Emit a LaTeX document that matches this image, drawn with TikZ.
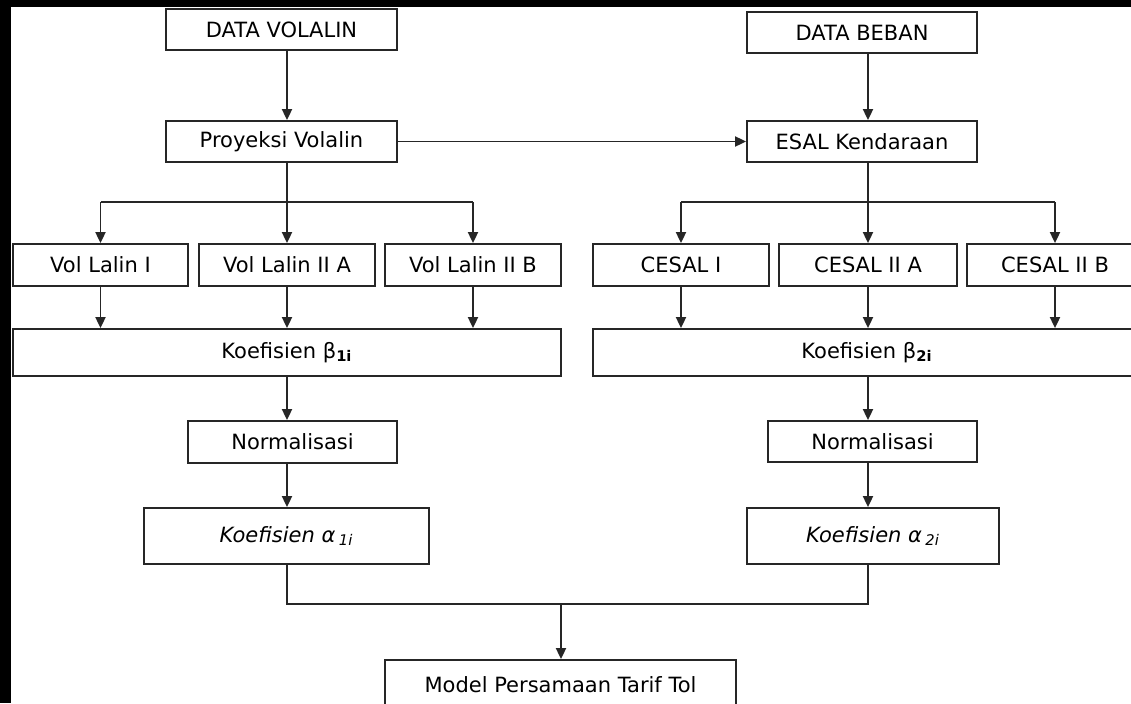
\documentclass[tikz,border=0pt]{standalone}
\usepackage{fontspec}
\setmainfont{DejaVu Sans}
\usetikzlibrary{arrows.meta}
\begin{document}
\begin{tikzpicture}[x=0.5pt,y=-0.5pt,
  box/.style={draw=black!85,line width=0.9pt,inner sep=0pt,fill=white,
    font=\fontsize{10.5}{12}\selectfont,text=black},
  conn/.style={draw=black!85,line width=0.9pt},
  arr/.style={conn,-{Triangle[length=5.5pt,width=5pt]}}]
\useasboundingbox (0,0) rectangle (1131,703);
\clip (0,0) rectangle (1131,703);
\fill[black] (0,0) rectangle (1131,703);
\fill[white] (11,7) rectangle (1131,703);
% column coordinates
\coordinate (xL) at (287,0);
\coordinate (xR) at (868,0);
\coordinate (xM) at (561,0);
\coordinate (yb) at (0,202);
\coordinate (ym) at (0,604);
% nodes
\node[box,minimum width=115.5pt,minimum height=20.5pt] (dv) at (281.5,29.5) {DATA VOLALIN};
\node[box,minimum width=115pt,minimum height=20.5pt] (db) at (862,32.5) {DATA BEBAN};
\node[box,minimum width=115.5pt,minimum height=20.5pt] (pv) at (281.5,141.5) {Proyeksi Volalin};
\node[box,minimum width=115pt,minimum height=20.5pt] (ek) at (862,141.5) {ESAL Kendaraan};
\node[box,minimum width=87.5pt,minimum height=21pt] (vl1) at (100.5,265) {Vol Lalin I};
\node[box,minimum width=88pt,minimum height=21pt] (vl2a) at (287,265) {Vol Lalin II A};
\node[box,minimum width=88pt,minimum height=21pt] (vl2b) at (473,265) {Vol Lalin II B};
\node[box,minimum width=88pt,minimum height=21pt] (ce1) at (681,265) {CESAL I};
\node[box,minimum width=89pt,minimum height=21pt] (ce2a) at (868,265) {CESAL II A};
\node[box,minimum width=88pt,minimum height=21pt] (ce2b) at (1055,265) {CESAL II B};
\node[box,minimum width=274pt,minimum height=23.5pt] (k1) at (287,352.5) {Koefisien β\textsubscript{\textbf{1i}}};
\node[box,minimum width=274pt,minimum height=23.5pt] (k2) at (867,352.5) {Koefisien β\textsubscript{\textbf{2i}}};
\node[box,minimum width=104.5pt,minimum height=21pt] (n1) at (292.5,442) {Normalisasi};
\node[box,minimum width=104.5pt,minimum height=20.5pt] (n2) at (872.5,441.5) {Normalisasi};
\node[box,minimum width=142.5pt,minimum height=28pt] (a1) at (286.5,536) {\itshape Koefisien α\,\textsubscript{1i}};
\node[box,minimum width=126pt,minimum height=28pt] (a2) at (873,536) {\itshape Koefisien α\,\textsubscript{2i}};
\node[box,minimum width=175.5pt,minimum height=25pt] (m) at (560.5,685) {Model Persamaan Tarif Tol};
% left column
\draw[arr] (dv.south -| xL) -- (pv.north -| xL);
\draw[arr] (pv.east) -- (ek.west);
\draw[conn] (pv.south -| xL) -- (xL |- yb);
\draw[conn] (vl1.north |- yb) -- (vl2b.north |- yb);
\draw[arr] (vl1.north |- yb) -- (vl1.north);
\draw[arr] (vl2a.north |- yb) -- (vl2a.north);
\draw[arr] (vl2b.north |- yb) -- (vl2b.north);
\draw[arr] (vl1.south) -- (vl1.south |- k1.north);
\draw[arr] (vl2a.south) -- (vl2a.south |- k1.north);
\draw[arr] (vl2b.south) -- (vl2b.south |- k1.north);
\draw[arr] (k1.south -| xL) -- (n1.north -| xL);
\draw[arr] (n1.south -| xL) -- (a1.north -| xL);
% right column
\draw[arr] (db.south -| xR) -- (ek.north -| xR);
\draw[conn] (ek.south -| xR) -- (xR |- yb);
\draw[conn] (ce1.north |- yb) -- (ce2b.north |- yb);
\draw[arr] (ce1.north |- yb) -- (ce1.north);
\draw[arr] (ce2a.north |- yb) -- (ce2a.north);
\draw[arr] (ce2b.north |- yb) -- (ce2b.north);
\draw[arr] (ce1.south) -- (ce1.south |- k2.north);
\draw[arr] (ce2a.south) -- (ce2a.south |- k2.north);
\draw[arr] (ce2b.south) -- (ce2b.south |- k2.north);
\draw[arr] (k2.south -| xR) -- (n2.north -| xR);
\draw[arr] (n2.south -| xR) -- (a2.north -| xR);
% merge
\draw[conn] (a1.south -| xL) -- (xL |- ym) -- (xR |- ym) -- (a2.south -| xR);
\draw[arr] (xM |- ym) -- (m.north -| xM);
\end{tikzpicture}
\end{document}
